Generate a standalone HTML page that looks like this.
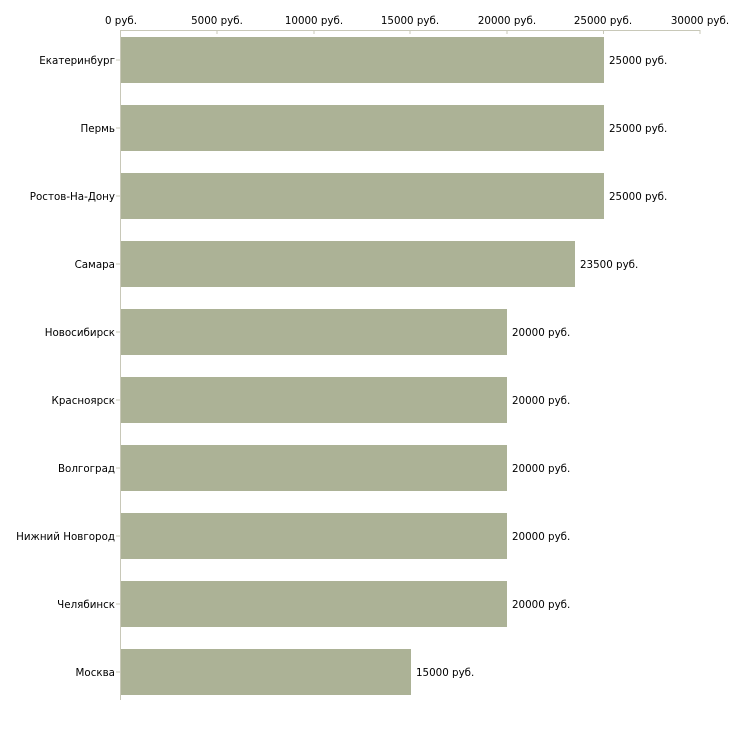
<!DOCTYPE html>
<html><head><meta charset="utf-8"><style>body{margin:0;background:#fff}svg{display:block}text{font-family:"DejaVu Sans","Liberation Sans",sans-serif;font-size:10.3px;fill:#000}</style></head><body>
<svg width="730" height="730" xmlns="http://www.w3.org/2000/svg">
<g stroke="#c8c8b8" stroke-width="1">
<line x1="120.5" y1="30.5" x2="700.5" y2="30.5"/>
<line x1="120.5" y1="30" x2="120.5" y2="700"/>
<line x1="217" y1="30" x2="217" y2="34"/><line x1="314" y1="30" x2="314" y2="34"/><line x1="410" y1="30" x2="410" y2="34"/><line x1="507" y1="30" x2="507" y2="34"/><line x1="603.5" y1="30" x2="603.5" y2="34"/><line x1="700" y1="30" x2="700" y2="34"/>
<line x1="116" y1="60" x2="120" y2="60"/><line x1="116" y1="128" x2="120" y2="128"/><line x1="116" y1="196" x2="120" y2="196"/><line x1="116" y1="264" x2="120" y2="264"/><line x1="116" y1="332" x2="120" y2="332"/><line x1="116" y1="400" x2="120" y2="400"/><line x1="116" y1="468" x2="120" y2="468"/><line x1="116" y1="536" x2="120" y2="536"/><line x1="116" y1="604" x2="120" y2="604"/><line x1="116" y1="672" x2="120" y2="672"/>
</g>
<g text-anchor="middle">
<text x="121" y="24">0 руб.</text><text x="217" y="24">5000 руб.</text><text x="314" y="24">10000 руб.</text><text x="410" y="24">15000 руб.</text><text x="507" y="24">20000 руб.</text><text x="603" y="24">25000 руб.</text><text x="700" y="24">30000 руб.</text>
</g>
<g fill="#acb296">
<rect x="121" y="37" width="483" height="46"/><rect x="121" y="105" width="483" height="46"/><rect x="121" y="173" width="483" height="46"/><rect x="121" y="241" width="454" height="46"/><rect x="121" y="309" width="386" height="46"/><rect x="121" y="377" width="386" height="46"/><rect x="121" y="445" width="386" height="46"/><rect x="121" y="513" width="386" height="46"/><rect x="121" y="581" width="386" height="46"/><rect x="121" y="649" width="290" height="46"/>
</g>
<g text-anchor="end">
<text x="115" y="64">Екатеринбург</text><text x="115" y="132">Пермь</text><text x="115" y="200">Ростов-На-Дону</text><text x="115" y="268">Самара</text><text x="115" y="336">Новосибирск</text><text x="115" y="404">Красноярск</text><text x="115" y="472">Волгоград</text><text x="115" y="540">Нижний Новгород</text><text x="115" y="608">Челябинск</text><text x="115" y="676">Москва</text>
</g>
<g>
<text x="609" y="64">25000 руб.</text><text x="609" y="132">25000 руб.</text><text x="609" y="200">25000 руб.</text><text x="580" y="268">23500 руб.</text><text x="512" y="336">20000 руб.</text><text x="512" y="404">20000 руб.</text><text x="512" y="472">20000 руб.</text><text x="512" y="540">20000 руб.</text><text x="512" y="608">20000 руб.</text><text x="416" y="676">15000 руб.</text>
</g>
</svg>
</body></html>
